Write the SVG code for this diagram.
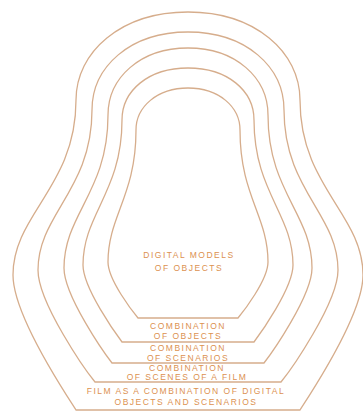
<svg xmlns="http://www.w3.org/2000/svg" width="363" height="416" viewBox="0 0 363 416">
<style>
.s{fill:none;stroke:#d6ad8c;stroke-width:1.3}
.t{font-family:"Liberation Sans",Arial,sans-serif;font-size:8.5px;fill:#dc9150;text-anchor:middle;letter-spacing:1.5px}
</style>
<rect width="363" height="416" fill="#ffffff"/>
<g id="layer5">
<path class="s" d="M188,12 C121,12 76,52 76,100 C76,187 13,214 13,275 C13,315 67,396 76,410 L300,410 C309,396 363,315 363,275 C363,214 300,187 300,100 C300,52 255,12 188,12 Z"/>
<text class="t" x="186" y="394">FILM AS A COMBINATION OF DIGITAL</text>
<text class="t" x="186" y="405">OBJECTS AND SCENARIOS</text>
</g>
<g id="layer4">
<path class="s" d="M188,32 C130,32 92,67 92,110 C92,190 38,214 38,270 C38,303 86,371 95,382 L281,382 C290,371 338,303 338,270 C338,214 284,190 284,110 C284,67 246,32 188,32 Z"/>
<text class="t" x="187" y="370.5">COMBINATION</text>
<text class="t" x="187" y="380">OF SCENES OF A FILM</text>
</g>
<g id="layer3">
<path class="s" d="M188,48 C140,48 108,78 108,115 C108,192 64,214 64,268 C64,296 105,354 112,363 L264,363 C271,354 312,296 312,268 C312,214 268,192 268,115 C268,78 236,48 188,48 Z"/>
<text class="t" x="188" y="351">COMBINATION</text>
<text class="t" x="188" y="360.5">OF SCENARIOS</text>
</g>
<g id="layer2">
<path class="s" d="M188,68 C148,68 122,91 122,120 C122,192 83,214 83,265 C83,288 116,334 122,342 L254,342 C260,334 293,288 293,265 C293,214 254,192 254,120 C254,91 228,68 188,68 Z"/>
<text class="t" x="188" y="329">COMBINATION</text>
<text class="t" x="188" y="339">OF OBJECTS</text>
</g>
<g id="layer1">
<path class="s" d="M188,88 C157,88 136,107 136,130 C136,196 108,216 108,262 C108,280 133,312 138,318 L238,318 C243,312 268,280 268,262 C268,216 240,196 240,130 C240,107 219,88 188,88 Z"/>
<text class="t" x="189" y="258">DIGITAL MODELS</text>
<text class="t" x="189" y="271">OF OBJECTS</text>
</g>
</svg>
